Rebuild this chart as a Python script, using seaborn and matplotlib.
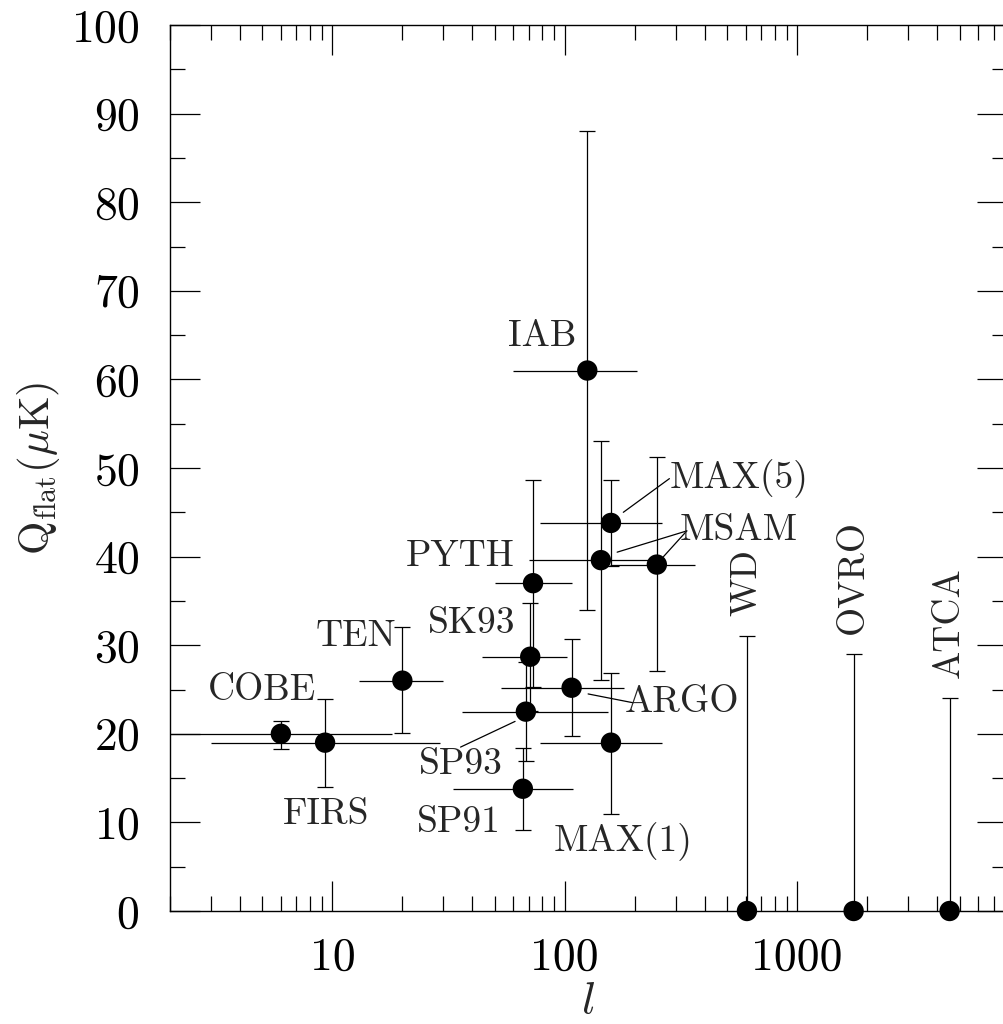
import numpy as np
import pandas as pd
import matplotlib
matplotlib.use("Agg")
import matplotlib.pyplot as plt
import seaborn as sns
from matplotlib.ticker import FixedLocator, NullFormatter, MultipleLocator

# detections: multipole, l-range and Q_flat with its 1-sigma range
experiments = ["COBE", "FIRS", "TEN", "SP91", "SP93", "SK93", "PYTH",
               "ARGO", "IAB", "MAX(1)", "MAX(5)", "MSAM", "MSAM"]
ell    = [6.0, 9.3, 20, 66, 68, 71, 73, 107, 125, 158, 158, 143, 249]
ell_lo = [2.0, 3.0, 13, 33, 36, 44, 50, 53, 60, 78, 78, 70, 156]
ell_hi = [18, 29, 30, 109, 153, 102, 107, 180, 205, 263, 263, 240, 362]
q_flat = [20.0, 19.0, 26.0, 13.8, 22.5, 28.7, 37.0, 25.2, 61.0, 19.0, 43.8, 39.6, 39.1]
q_lo   = [18.3, 14.0, 20.1, 9.1, 16.9, 22.6, 25.3, 19.8, 34.0, 10.9, 38.9, 26.1, 27.1]
q_hi   = [21.5, 23.9, 32.0, 18.4, 28.1, 34.8, 48.6, 30.7, 88.0, 26.9, 48.6, 53.1, 51.2]

# upper limits
limit_names = ["WD", "OVRO", "ATCA"]
limit_ell   = [608, 1750, 4530]
limit_q     = [31.0, 29.0, 24.0]

# label placement (data coords)
label_text = ["COBE", "FIRS", "TEN", "SK93", "PYTH", "IAB", "MAX(5)",
              "MSAM", "ARGO", "SP93", "SP91", "MAX(1)"]
label_ell  = [4.97, 9.38, 12.6, 39.7, 35.4, 79.8, 563, 563, 320, 35.7, 35.0, 178]
label_q    = [24.9, 10.9, 31.0, 32.5, 40.0, 64.9, 48.8, 43.0, 23.5, 16.5, 10.0, 7.8]

# leader lines from label to point
leaders = [((178.6, 45.0), (282, 48.8)),
           ((168, 40.5), (335, 42.9)),
           ((266, 40.0), (335, 42.9)),
           ((126, 24.5), (197, 23.5)),
           ((35.6, 18.5), (61.1, 21.4))]

sns.set_style("ticks")
plt.rcParams["font.family"] = ["cmr10", "DejaVu Serif"]
plt.rcParams["mathtext.fontset"] = "cm"
plt.rcParams["axes.formatter.use_mathtext"] = True

df = pd.DataFrame({"ell": ell, "q": q_flat, "exp": experiments})
lim = pd.DataFrame({"ell": limit_ell, "q": np.zeros(len(limit_ell)), "exp": limit_names})

fig = plt.figure(figsize=(10.04, 10.24), dpi=100)
ax = fig.add_axes([170 / 1004, 113 / 1024, 837 / 1004, 886 / 1024])

ell_a, q_a = np.array(ell), np.array(q_flat)
ax.errorbar(ell_a, q_a, yerr=[q_a - np.array(q_lo), np.array(q_hi) - q_a],
            fmt="none", ecolor="black", elinewidth=0.9, capsize=6, capthick=0.9)
ax.errorbar(ell_a, q_a, xerr=[ell_a - np.array(ell_lo), np.array(ell_hi) - ell_a],
            fmt="none", ecolor="black", elinewidth=0.9, capsize=0)
ax.errorbar(lim["ell"], lim["q"], yerr=[lim["q"], limit_q],
            fmt="none", ecolor="black", elinewidth=0.9, capsize=6, capthick=0.9)

for d in (df, lim):
    sns.scatterplot(data=d, x="ell", y="q", ax=ax, s=215, color="black",
                    edgecolor="none", zorder=4, clip_on=False, legend=False)

for txt, lx, ly in zip(label_text, label_ell, label_q):
    ax.text(lx, ly, txt, ha="center", va="center", fontsize=27)
for (x0, y0), (x1, y1) in leaders:
    ax.plot([x0, x1], [y0, y1], color="black", lw=0.9)
for name, lx, ly in zip(limit_names, limit_ell, limit_q):
    ax.text(lx, ly + 2.3, name, ha="center", va="bottom", rotation=90, fontsize=27)

ax.set_xscale("log")
ax.set_xlim(2, 8000)
ax.set_ylim(0, 100)
ax.xaxis.set_major_locator(FixedLocator([10, 100, 1000]))
ax.set_xticklabels(["10", "100", "1000"])
minor = [m * 10 ** e for e in range(0, 4) for m in range(2, 10)]
ax.xaxis.set_minor_locator(FixedLocator(minor))
ax.xaxis.set_minor_formatter(NullFormatter())
ax.yaxis.set_major_locator(MultipleLocator(10))
ax.yaxis.set_minor_locator(MultipleLocator(5))

ax.tick_params(which="both", direction="in", top=True, right=True,
               width=0.9, labelsize=33, colors="black")
ax.tick_params(which="major", length=21.5)
ax.tick_params(axis="x", which="major", pad=19)
ax.tick_params(axis="y", which="major", pad=22)
ax.tick_params(which="minor", length=10.5)
for s in ax.spines.values():
    s.set_linewidth(1.0)
    s.set_color("black")

ax.set_xlabel(r"$l$", fontsize=33, labelpad=1)
ax.set_ylabel(r"$\mathrm{Q}_{\rm flat}(\mu{\rm K})$", fontsize=31, labelpad=6)

fig.savefig("out.png", dpi=100)
plt.close(fig)
